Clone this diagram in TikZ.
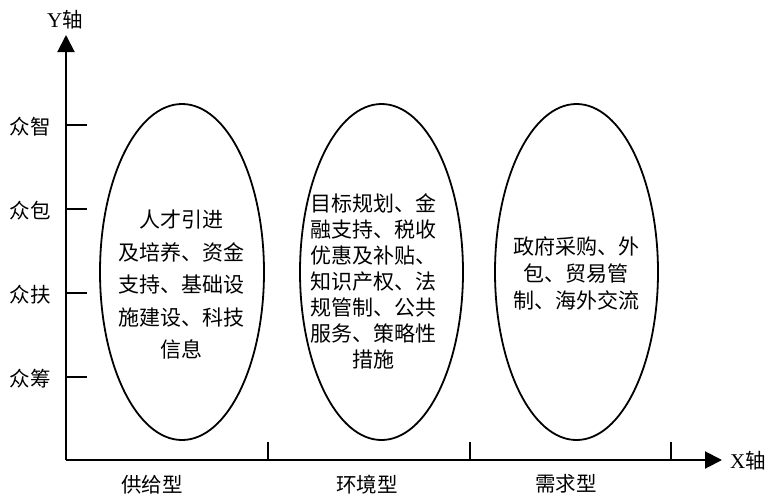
\documentclass[tikz,border=0pt]{standalone}
\usepackage{fontspec}
\setmainfont{Liberation Serif}
\newfontfamily\cjk{Noto Sans CJK SC}
\usetikzlibrary{arrows.meta}
\begin{document}
\begin{tikzpicture}[x=1pt,y=-1pt,
  axisline/.style={line width=2pt,-{Triangle[length=17pt,width=17pt]}},
  tickline/.style={line width=1.6pt},
  bubble/.style={draw,line width=1.8pt},
  lbl/.style={font=\cjk\fontsize{20.5}{20.5}\selectfont,inner sep=0pt},
  bubtext/.style={font=\cjk\fontsize{21}{#1}\selectfont,align=center,inner sep=0pt}]
\useasboundingbox (0,0) rectangle (766,496);
\coordinate (O) at (66,460);
\coordinate (Ytip) at (66,35);
\coordinate (Xtip) at (722,460);
\draw[axisline] (O) -- (Ytip);
\draw[axisline] (O) -- (Xtip);
\node[lbl] (ylab) at (65,20) {{\fontsize{21}{21}\selectfont\rmfamily Y}轴};
\node[lbl] (xlab) at (748,461) {{\fontsize{21}{21}\selectfont\rmfamily X}轴};
% y ticks
\foreach \yy/\nm/\t in {125/zz/众智,209/zb/众包,293/zf/众扶,377/zc/众筹}{
  \coordinate (t\nm) at (66,\yy);
  \coordinate (e\nm) at (87,\yy);
  \draw[tickline] (t\nm) -- (e\nm);
  \node[lbl] (l\nm) at (30,\yy+2) {\t};
}
% x ticks
\foreach \xx/\nm in {268/a,470/b,671/c}{
  \coordinate (b\nm) at (\xx,460);
  \coordinate (u\nm) at (\xx,442);
  \draw[tickline] (b\nm) -- (u\nm);
}
\node[lbl] (supply) at (152,485) {供给型};
\node[lbl] (env) at (367,485) {环境型};
\node[lbl] (dem) at (566,484) {需求型};
% ellipses
\draw[bubble] (182,272) ellipse [x radius=82, y radius=168];
\draw[bubble] (381.5,272) ellipse [x radius=81.5, y radius=168];
\draw[bubble] (576.5,272) ellipse [x radius=81.5, y radius=168];
\node[bubtext=32.5] (t1) at (181,285) {人才引进\\及培养、资金\\支持、基础设\\施建设、科技\\信息};
\node[bubtext=26] (t2) at (373.5,281) {目标规划、金\\融支持、税收\\优惠及补贴、\\知识产权、法\\规管制、公共\\服务、策略性\\措施};
\node[bubtext=27] (t3) at (576,273) {政府采购、外\\包、贸易管\\制、海外交流};
\end{tikzpicture}
\end{document}
